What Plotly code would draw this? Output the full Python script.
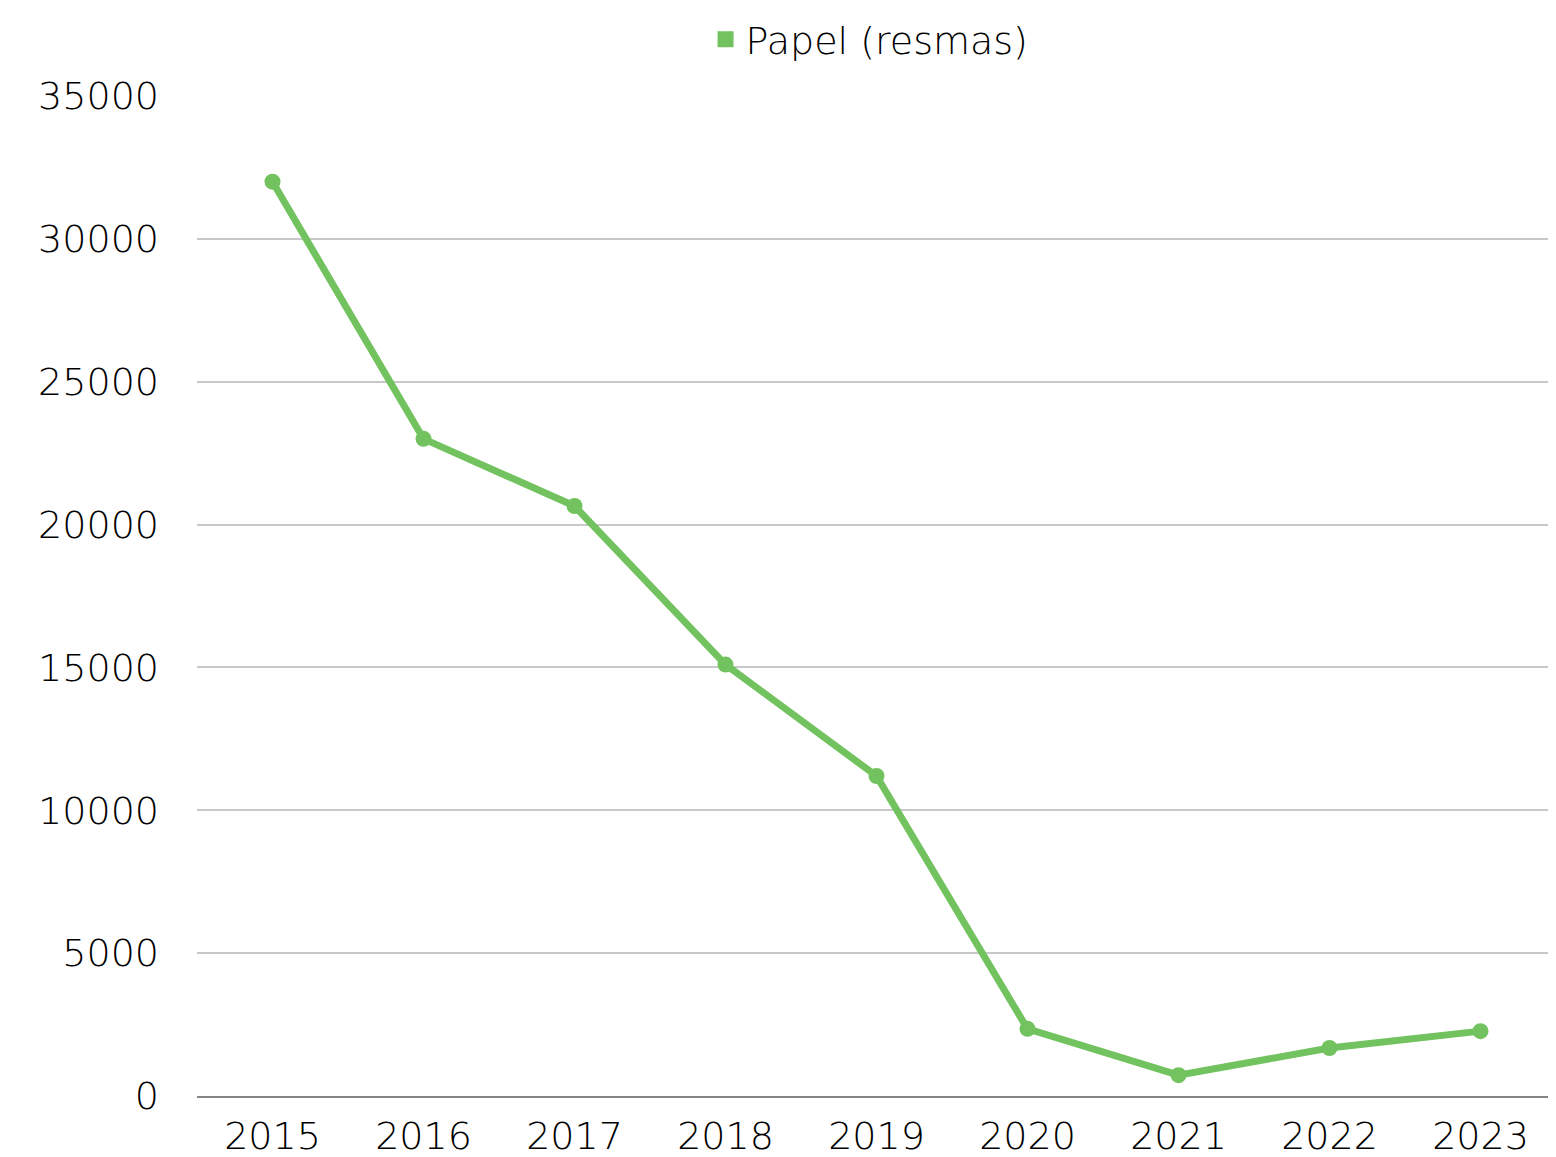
import plotly.graph_objects as go

years = ["2015", "2016", "2017", "2018", "2019", "2020", "2021", "2022", "2023"]
papel_resmas = [32000, 23000, 20650, 15100, 11200, 2350, 730, 1680, 2270]
y_ticks = [0, 5000, 10000, 15000, 20000, 25000, 30000, 35000]

green = "#72C35F"

fig = go.Figure()
# the line itself, legend drawn by a square-marker entry below
fig.add_trace(go.Scatter(
    x=years,
    y=papel_resmas,
    mode="lines+markers",
    name="Papel (resmas)",
    line=dict(color=green, width=7),
    marker=dict(color=green, size=16),
    showlegend=False,
))
fig.add_trace(go.Scatter(
    x=[None],
    y=[None],
    mode="markers",
    name="Papel (resmas)",
    marker=dict(color=green, size=20, symbol="square"),
))

fig.update_layout(
    width=1556,
    height=1157,
    paper_bgcolor="white",
    plot_bgcolor="white",
    font=dict(family="DejaVu Sans, Lato, sans-serif", size=38, color="#000000", weight=300),
    margin=dict(l=189, r=0, t=87, b=69),
    showlegend=True,
    legend=dict(
        orientation="h",
        x=0.492, xanchor="center",
        y=1.057, yanchor="middle",
        font=dict(size=38),
    ),
)

fig.update_xaxes(
    type="category",
    range=[-0.5, 8.553],
    automargin=False,
    showgrid=False,
    showline=True,
    linecolor="#858585",
    linewidth=2,
    ticks="",
    ticklabelstandoff=5,
)
fig.update_yaxes(
    range=[0, 35000],
    tickvals=y_ticks,
    ticktext=[str(v) for v in y_ticks],
    automargin=False,
    showgrid=True,
    gridcolor="#C8C8C8",
    gridwidth=1.5,
    zeroline=False,
    showline=False,
    ticks="",
    ticklabelstandoff=37,
)

fig.write_html("out.html")
